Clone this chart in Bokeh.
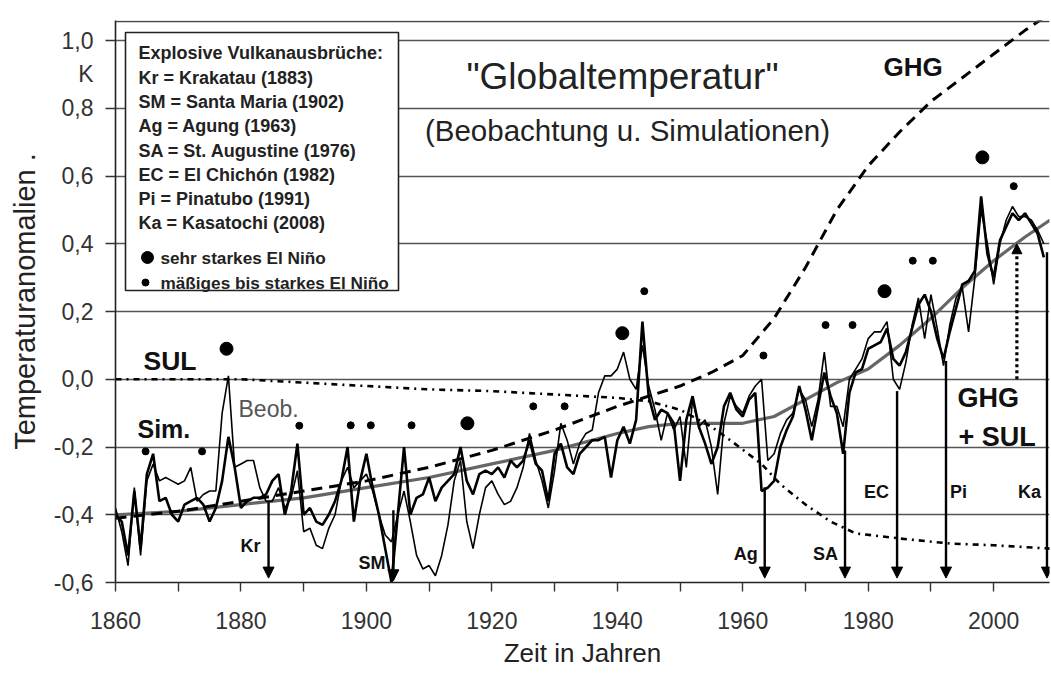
from bokeh.plotting import figure
from bokeh.models import (ColumnDataSource, FixedTicker, CustomJSTickFormatter, Arrow,
                          NormalHead, Span, Range1d)
from bokeh.core.properties import value
from bokeh.embed import file_html
from bokeh.resources import INLINE

# ---------------- data ----------------
years = list(range(1860, 2009))
sim = [
    -0.40, -0.42, -0.52, -0.33, -0.50, -0.28, -0.22, -0.36, -0.35, -0.40,
    -0.42, -0.37, -0.36, -0.35, -0.37, -0.42, -0.38, -0.30, -0.17, -0.26,
    -0.38, -0.36, -0.35, -0.35, -0.34, -0.30, -0.28, -0.40, -0.33, -0.19,
    -0.40, -0.38, -0.42, -0.43, -0.40, -0.36, -0.30, -0.20, -0.42, -0.30,
    -0.22, -0.32, -0.40, -0.50, -0.60, -0.40, -0.20, -0.40, -0.35, -0.34,
    -0.29, -0.36, -0.32, -0.30, -0.28, -0.20, -0.30, -0.34, -0.28, -0.27,
    -0.28, -0.26, -0.29, -0.24, -0.26, -0.24, -0.18, -0.25, -0.27, -0.36,
    -0.22, -0.19, -0.26, -0.28, -0.22, -0.20, -0.18, -0.18, -0.17, -0.29,
    -0.18, -0.14, -0.19, -0.12, 0.17, -0.05, -0.12, -0.09, -0.10, -0.13,
    -0.30, -0.12, -0.05, -0.14, -0.19, -0.25, -0.20, -0.08, -0.04, -0.09,
    -0.11, -0.06, -0.04, -0.33, -0.32, -0.30, -0.20, -0.15, -0.11, -0.02,
    -0.09, -0.18, -0.08, 0.02, -0.05, -0.10, -0.22, -0.04, 0.02, 0.03,
    0.09, 0.10, 0.11, 0.15, 0.06, 0.04, 0.08, 0.15, 0.22, 0.25,
    0.20, 0.12, 0.06, 0.14, 0.21, 0.28, 0.29, 0.32, 0.54, 0.37,
    0.30, 0.41, 0.45, 0.49, 0.47, 0.49, 0.46, 0.43, 0.36,
]
obs = [
    -0.38, -0.45, -0.55, -0.32, -0.52, -0.30, -0.25, -0.30, -0.29, -0.30,
    -0.31, -0.30, -0.26, -0.36, -0.34, -0.33, -0.33, -0.10, 0.01, -0.26,
    -0.25, -0.24, -0.24, -0.32, -0.36, -0.36, -0.32, -0.38, -0.35, -0.27,
    -0.45, -0.44, -0.49, -0.50, -0.44, -0.40, -0.30, -0.26, -0.32, -0.30,
    -0.28, -0.33, -0.40, -0.46, -0.48, -0.40, -0.33, -0.42, -0.52, -0.56,
    -0.55, -0.58, -0.52, -0.43, -0.30, -0.24, -0.42, -0.50, -0.40, -0.32,
    -0.30, -0.34, -0.37, -0.36, -0.32, -0.26, -0.16, -0.24, -0.30, -0.38,
    -0.27, -0.13, -0.18, -0.25, -0.19, -0.16, -0.15, -0.04, 0.01, 0.01,
    0.03, 0.08, 0.00, -0.03, 0.10, -0.02, -0.09, -0.18, -0.10, -0.15,
    -0.11, -0.26, -0.06, -0.14, -0.12, -0.20, -0.34, -0.13, -0.05, -0.08,
    -0.10, -0.05, -0.02, 0.00, -0.24, -0.22, -0.16, -0.12, -0.10, -0.03,
    -0.06, -0.14, -0.06, 0.08, -0.08, -0.08, -0.14, 0.00, 0.03, 0.06,
    0.12, 0.14, 0.14, 0.17, 0.00, -0.03, 0.05, 0.16, 0.24, 0.12,
    0.25, 0.15, 0.04, 0.16, 0.24, 0.27, 0.14, 0.30, 0.50, 0.40,
    0.28, 0.40, 0.47, 0.51, 0.48, 0.48, 0.47, 0.44, 0.40,
]
trend_years = [1860, 1870, 1880, 1890, 1900, 1910, 1920, 1930, 1940, 1945, 1950, 1955,
               1960, 1965, 1970, 1975, 1980, 1985, 1990, 1995, 2000, 2005, 2009]
trend = [-0.40, -0.39, -0.37, -0.35, -0.32, -0.29, -0.25, -0.21, -0.16, -0.14, -0.13, -0.13,
         -0.13, -0.11, -0.06, -0.01, 0.03, 0.10, 0.18, 0.27, 0.35, 0.42, 0.47]
ghg_years = [1860, 1870, 1880, 1890, 1900, 1910, 1920, 1930, 1940, 1950, 1955, 1960, 1965,
             1970, 1975, 1980, 1985, 1990, 1995, 2000, 2005, 2009]
ghg = [-0.41, -0.39, -0.36, -0.33, -0.30, -0.26, -0.21, -0.15, -0.08, -0.02, 0.02, 0.07, 0.18,
       0.33, 0.50, 0.63, 0.73, 0.82, 0.89, 0.96, 1.03, 1.08]
sul_years = [1860, 1880, 1890, 1900, 1910, 1920, 1930, 1940, 1945, 1950, 1955, 1958, 1963,
             1966, 1970, 1974, 1978, 1985, 1993, 2000, 2009]
sul = [0.0, 0.0, -0.01, -0.02, -0.03, -0.035, -0.045, -0.055, -0.065, -0.09, -0.14, -0.18,
       -0.25, -0.31, -0.37, -0.42, -0.455, -0.47, -0.485, -0.49, -0.50]

volc_abbr = ["Kr", "SM", "Ag", "SA", "EC", "Pi", "Ka"]
volc_name = ["Krakatau", "Santa Maria", "Agung", "St. Augustine", "El Chichón", "Pinatubo", "Kasatochi"]
volc_year = [1883, 1902, 1963, 1976, 1982, 1991, 2008]
arrow_x = [1884.4, 1904.3, 1963.5, 1976.3, 1984.6, 1992.4, 2008.5]
arrow_top = [-0.363, -0.387, -0.319, -0.21, -0.035, 0.054, 0.375]
arrow_bottom = [-0.587, -0.595, -0.587, -0.587, -0.587, -0.587, -0.587]

nino_strong_x = [1877.7, 1916.1, 1940.8, 1982.6, 1998.2]
nino_strong_y = [0.09, -0.13, 0.136, 0.26, 0.655]
nino_mod_x = [1864.8, 1873.8, 1889.3, 1897.5, 1900.7, 1907.2, 1926.6, 1931.6, 1944.3,
              1963.3, 1973.2, 1977.5, 1987.1, 1990.3, 2003.2]
nino_mod_y = [-0.213, -0.213, -0.137, -0.136, -0.136, -0.136, -0.08, -0.08, 0.26,
              0.07, 0.16, 0.16, 0.35, 0.35, 0.57]

ghgsul_x = [2003.7]
ghgsul_from = [0.0]
ghgsul_to = [0.40]

y_ticks = [-0.6, -0.4, -0.2, 0.0, 0.2, 0.4, 0.6, 0.8, 1.0]
y_unit_tick = 0.9            # where the unit "K" is written
x_major = [1860, 1880, 1900, 1920, 1940, 1960, 1980, 2000]
x_minor = [1870, 1890, 1910, 1930, 1950, 1970, 1990]

# ---------------- layout helpers ----------------
W, H = 1051, 675
BL, BR, BT, BB = 115, 2, 20, 93
X0, X1 = 1860, 2008.9
Y0 = -0.6
YS = 338.75                      # px per K
Y1 = Y0 + (H - BT - BB) / YS
XS = (W - BL - BR) / (X1 - X0)   # px per year


def X(px):   # page x -> data
    return X0 + (px - BL) / XS


def Y(py):   # page y -> data
    return Y0 + (H - BB - py) / YS


FONT = value("Liberation Sans")

p = figure(width=W, height=H, x_range=Range1d(X0, X1), y_range=Range1d(Y0, Y1),
           output_backend="svg", toolbar_location=None,
           min_border_left=BL, min_border_right=BR, min_border_top=BT, min_border_bottom=BB)
p.outline_line_color = None
p.background_fill_color = "white"

p.xgrid.grid_line_color = None
p.ygrid.ticker = FixedTicker(ticks=y_ticks)
p.ygrid.grid_line_color = "#555555"
p.ygrid.grid_line_width = 1.4

p.yaxis.ticker = FixedTicker(ticks=y_ticks + [y_unit_tick], minor_ticks=y_ticks)
p.yaxis.formatter = CustomJSTickFormatter(
    code="if (Math.abs(tick - 0.9) < 1e-6) { return 'K'; } return tick.toFixed(1).replace('.', ',');")
p.xaxis.ticker = FixedTicker(ticks=x_major, minor_ticks=x_minor)

for ax in (p.xaxis[0], p.yaxis[0]):
    ax.axis_line_color = "#222222"
    ax.axis_line_width = 1.6
    ax.major_tick_line_color = "#333333"
    ax.major_tick_line_width = 1.4
    ax.major_tick_in = 0
    ax.minor_tick_in = 0
    ax.minor_tick_line_color = "#333333"
    ax.minor_tick_line_width = 1.4
    ax.major_label_text_font = "Liberation Sans"
    ax.major_label_text_font_size = "23px"
    ax.major_label_text_color = "#333333"
    ax.axis_label_text_font = "Liberation Sans"
    ax.axis_label_text_font_style = "normal"
    ax.axis_label_text_color = "#222222"

# y: visible ticks are the minor ones (no tick under the unit "K")
p.yaxis.major_tick_out = 10
p.yaxis.major_tick_line_color = None
p.yaxis.minor_tick_out = 10
p.yaxis.major_label_standoff = 12
p.yaxis.axis_label = "Temperaturanomalien ."
p.yaxis.axis_label_text_font_size = "29px"
p.yaxis.axis_label_standoff = 10

p.xaxis.major_tick_out = 9
p.xaxis.minor_tick_out = 9
p.xaxis.major_label_standoff = 20
p.xaxis.axis_label = "Zeit in Jahren"
p.xaxis.axis_label_text_font_size = "26px"
p.xaxis.axis_label_standoff = 6

p.add_layout(Span(location=Y1 - 0.003, dimension="width", line_color="#444444", line_width=1.6))

# ---------------- curves ----------------
p.line(trend_years, trend, line_color="#666666", line_width=3.2)
p.line(ghg_years, ghg, line_color="black", line_width=3.0, line_dash="11 7")
p.line(sul_years, sul, line_color="black", line_width=2.6, line_dash="6 5 2 5")
p.line(years, obs, line_color="black", line_width=1.6)
p.line(years, sim, line_color="black", line_width=2.6)

p.scatter(nino_strong_x, nino_strong_y, size=13, color="black")
p.scatter(nino_mod_x, nino_mod_y, size=7, color="black")

# volcano arrows
vsrc = ColumnDataSource(dict(x=arrow_x, y0=arrow_top, y1=arrow_bottom))
p.add_layout(Arrow(x_start="x", y_start="y0", x_end="x", y_end="y1", source=vsrc,
                   line_color="black", line_width=2.4,
                   end=NormalHead(size=11, fill_color="black", line_color="black", line_width=1)))
p.add_layout(Arrow(x_start=ghgsul_x[0], y_start=ghgsul_from[0], x_end=ghgsul_x[0], y_end=ghgsul_to[0],
                   line_color="black", line_width=3.2, line_dash="3 3",
                   end=NormalHead(size=10, fill_color="black", line_color="black", line_width=1)))

# volcano labels
lab_y = [Y(545), Y(562.5), Y(553), Y(553), Y(491.7), Y(491.7), Y(491.7)]
lab_align = ["right", "right", "right", "right", "right", "left", "right"]
lab_off = [-8, -8, -7, -7, -8, 4, -6]
p.text(x=arrow_x, y=lab_y, text=volc_abbr, text_align=lab_align, x_offset=lab_off,
       text_baseline="middle", text_font=FONT, text_font_style="bold",
       text_font_size="18px", text_color="#111111")

# ---------------- legend box ----------------
p.quad(left=[X(125)], right=[X(398)], top=[Y(32)], bottom=[Y(290)],
       fill_color="white", line_color="#222222", line_width=1.6)
pad = {"Kr": "  ", "Pi": "  "}
leg_lines = ["Explosive Vulkanausbrüche:"] + [
    f"{a}{pad.get(a, ' ')}= {n} ({y})" for a, n, y in zip(volc_abbr, volc_name, volc_year)]
leg_py = [52, 77, 101, 125, 150, 174, 198, 222]
p.text(x=[X(138)] * len(leg_lines), y=[Y(v) for v in leg_py], text=leg_lines,
       text_align="left", text_baseline="middle", text_font=FONT, text_font_style="bold",
       text_font_size="18px", text_color="#222222")
p.scatter([X(147)], [Y(257)], size=12, color="black")
p.scatter([X(145)], [Y(282)], size=7, color="black")
p.text(x=[X(160), X(160)], y=[Y(257), Y(282)],
       text=["sehr starkes El Niño", "mäßiges bis starkes El Niño"],
       text_align="left", text_baseline="middle", text_font=FONT, text_font_style="bold",
       text_font_size="17.2px", text_color="#222222")

# ---------------- texts ----------------
p.text(x=[X(622)], y=[Y(76)], text=['"Globaltemperatur"'], text_align="center",
       text_baseline="middle", text_font=FONT, text_font_size="37px", text_color="#222222")
p.text(x=[X(627)], y=[Y(130)], text=["(Beobachtung u. Simulationen)"], text_align="center",
       text_baseline="middle", text_font=FONT, text_font_size="29.5px", text_color="#222222")
p.text(x=[X(883)], y=[Y(66)], text=["GHG"], text_align="left", text_baseline="middle",
       text_font=FONT, text_font_style="bold", text_font_size="26px", text_color="#111111")
p.text(x=[X(143)], y=[Y(360)], text=["SUL"], text_align="left", text_baseline="middle",
       text_font=FONT, text_font_style="bold", text_font_size="26.5px", text_color="#111111")
p.text(x=[X(137)], y=[Y(428)], text=["Sim."], text_align="left", text_baseline="middle",
       text_font=FONT, text_font_style="bold", text_font_size="25px", text_color="#111111")
p.text(x=[X(238)], y=[Y(408)], text=["Beob."], text_align="left", text_baseline="middle",
       text_font=FONT, text_font_size="23px", text_color="#555555")
p.text(x=[X(957), X(958)], y=[Y(397), Y(436)], text=["GHG", "+ SUL"], text_align="left",
       text_baseline="middle", text_font=FONT, text_font_style="bold", text_font_size="27px",
       text_color="#111111")

open("out.html", "w").write(file_html(p, INLINE))
